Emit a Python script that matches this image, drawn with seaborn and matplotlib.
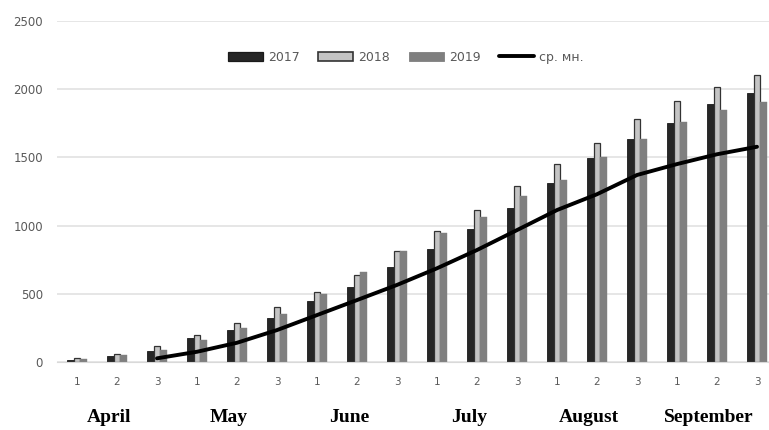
import pandas as pd
import matplotlib.pyplot as plt
import matplotlib.transforms as mtransforms
import seaborn as sns

# decades (1-3) of each month, April..September
months = ["April", "May", "June", "July", "August", "September"]
decades = ["1", "2", "3"]

v2017 = [15, 47, 84, 176, 237, 320, 445, 550, 697, 826, 977, 1131,
         1314, 1493, 1632, 1750, 1893, 1972]
v2018 = [30, 62, 120, 198, 286, 403, 513, 641, 812, 958, 1116, 1290,
         1449, 1608, 1781, 1915, 2013, 2101]
v2019 = [20, 52, 91, 161, 251, 355, 501, 658, 812, 949, 1063, 1217,
         1332, 1500, 1632, 1757, 1847, 1903]

# multi-year average, starts at April decade 3
avg_start = 2
avg = [27, 75, 141, 234, 344, 454, 565, 687, 821, 967, 1114, 1230,
       1371, 1451, 1523, 1578]

n = len(v2017)
rows = []
for year, vals in [("2017", v2017), ("2018", v2018), ("2019", v2019)]:
    for i, v in enumerate(vals):
        rows.append({"period": i, "year": year, "value": v})
df = pd.DataFrame(rows)

sns.set_style("white")
plt.rcParams["font.family"] = ["DejaVu Sans"]

fig = plt.figure(figsize=(7.69, 4.30), dpi=100)
ax = fig.add_axes([57 / 769, 68 / 430, 712 / 769, 341 / 430])

palette = {"2017": "#262626", "2018": "#c4c4c4", "2019": "#7f7f7f"}
sns.barplot(data=df, x="period", y="value", hue="year", palette=palette,
            width=0.5, saturation=1, ax=ax, legend=True)

edges = {"2017": ("#1a1a1a", 0.6), "2018": ("#333333", 0.9), "2019": ("#7f7f7f", 0.3)}
for cont, yr in zip(ax.containers, ["2017", "2018", "2019"]):
    for p in cont:
        p.set_edgecolor(edges[yr][0])
        p.set_linewidth(edges[yr][1])

sns.lineplot(x=list(range(avg_start, avg_start + len(avg))), y=avg,
             color="black", linewidth=2.8, ax=ax, label="ср. мн.")

ax.set_xlim(-0.5, 17.3)
ax.set_ylim(0, 2500)
ax.set_yticks([0, 500, 1000, 1500, 2000, 2500])
ax.set_xticks(range(n))
ax.set_xticklabels(decades * len(months))
ax.set_xlabel("")
ax.set_ylabel("")
ax.yaxis.grid(True, color="#e2e2e2", linewidth=1.2)
ax.set_axisbelow(True)
for s in ["top", "right", "left"]:
    ax.spines[s].set_visible(False)
ax.spines["bottom"].set_color("#d9d9d9")
ax.tick_params(axis="x", length=0, pad=11, labelsize=7.5, labelcolor="#595959")
ax.tick_params(axis="y", length=0, pad=10, labelsize=8.5, labelcolor="#595959")

# month names under each group of three decades
trans = mtransforms.blended_transform_factory(ax.transData, ax.transAxes)
for m, name in enumerate(months):
    ax.text(m * 3 + 1 - 0.2, -0.164, name, transform=trans, ha="center", va="center",
            fontsize=14, fontweight="bold", family="Liberation Serif", color="black",
            clip_on=False)

handles, labels = ax.get_legend_handles_labels()
leg = ax.legend(handles, labels, loc="center", bbox_to_anchor=(0.49, 0.894), ncol=4,
                frameon=False, fontsize=9, handlelength=2.8, handleheight=0.8,
                handletextpad=0.4, columnspacing=1.5, labelcolor="#595959")
for h, yr in zip(leg.legend_handles[:3], ["2017", "2018", "2019"]):
    h.set_edgecolor(edges[yr][0])
    h.set_linewidth(edges[yr][1] + 0.3)

fig.savefig("out.png", dpi=100)
